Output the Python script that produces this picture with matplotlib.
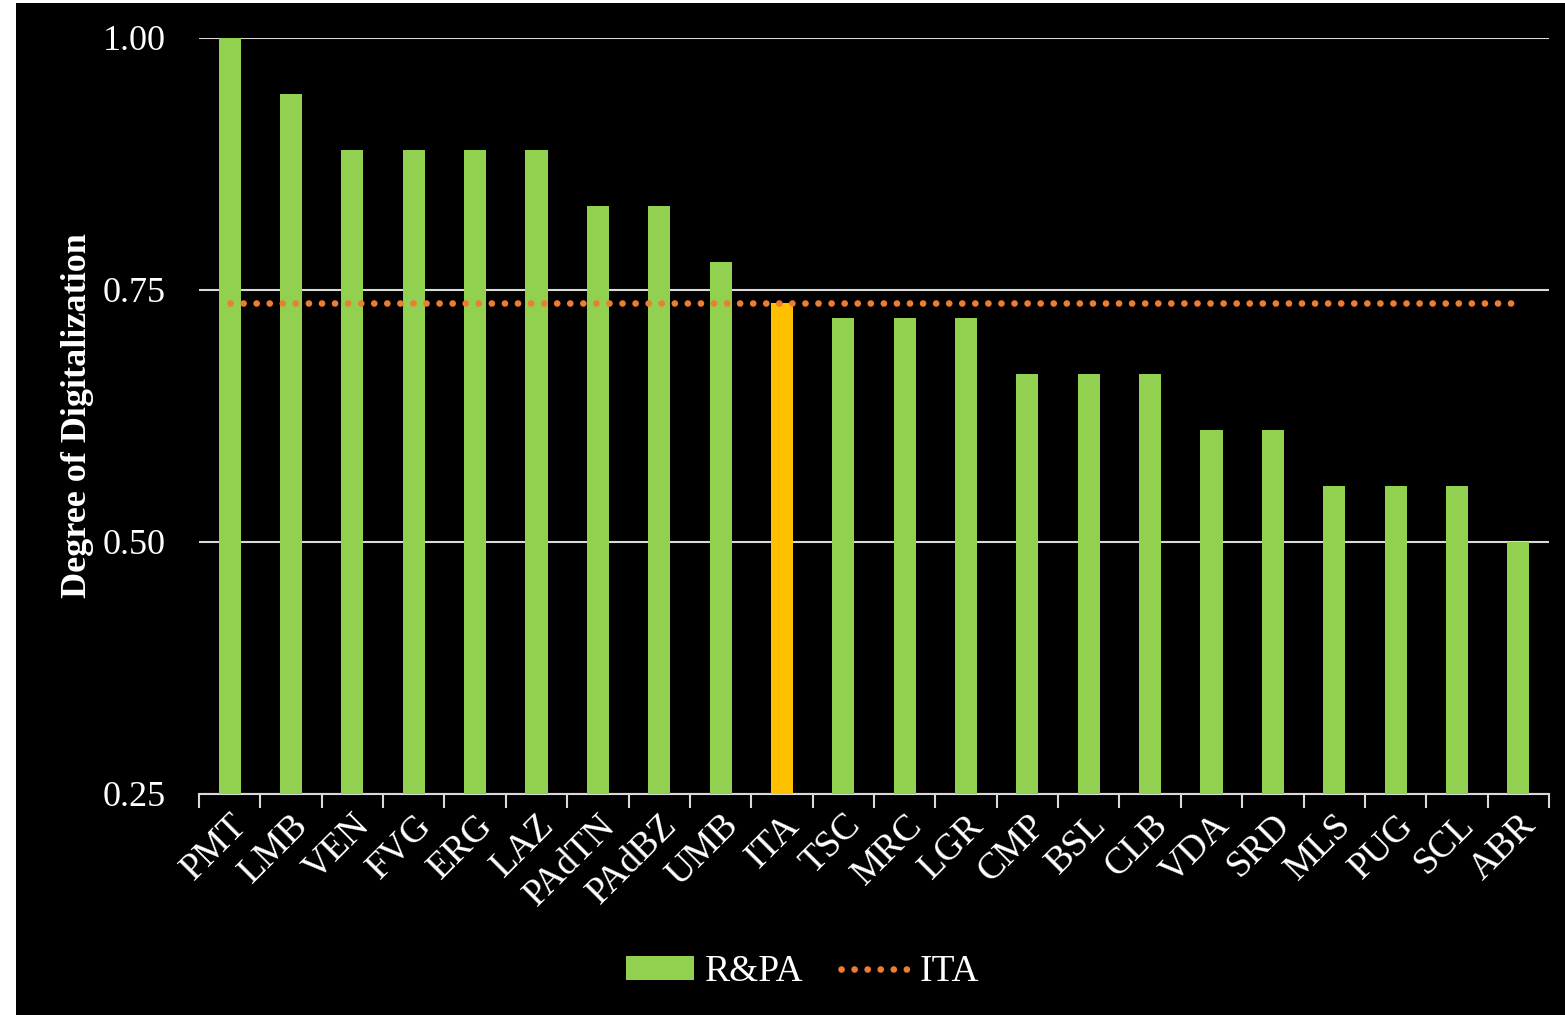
import matplotlib.pyplot as plt
import numpy as np
from matplotlib.patches import Rectangle

plt.rcParams['font.family'] = ['Liberation Serif', 'DejaVu Serif']

regions = ["PMT", "LMB", "VEN", "FVG", "ERG", "LAZ", "PAdTN", "PAdBZ", "UMB", "ITA",
           "TSC", "MRC", "LGR", "CMP", "BSL", "CLB", "VDA", "SRD", "MLS", "PUG", "SCL", "ABR"]
scores = [1.000, 0.944, 0.889, 0.889, 0.889, 0.889, 0.833, 0.833, 0.778, 0.737,
          0.722, 0.722, 0.722, 0.667, 0.667, 0.667, 0.611, 0.611, 0.556, 0.556, 0.556, 0.500]
ita_avg = 0.737
yticks = [0.25, 0.50, 0.75, 1.00]

green = "#92D050"
orange = "#FFC000"
dots = "#ED7D31"
grid = "#D9D9D9"

fig = plt.figure(figsize=(15.65, 10.15), dpi=100, facecolor="white")
# black panel (white strip on the left like the original)
fig.patches.append(Rectangle((16 / 1565, 0), 1 - 16 / 1565, 1 - 3 / 1015,
                             transform=fig.transFigure, facecolor="black", zorder=-10))

ax = fig.add_axes([199 / 1565, 1 - 794 / 1015, 1350 / 1565, 756 / 1015])
ax.set_facecolor("black")

x = np.arange(len(regions))
cols = [orange if r == "ITA" else green for r in regions]
ax.bar(x, [s - 0.25 for s in scores], bottom=0.25, width=0.36, color=cols, zorder=3, label="R&PA")
ax.plot(x, [ita_avg] * len(regions), linestyle=(0, (0.01, 1.95)), color=dots, lw=4.8,
        dash_capstyle="round", zorder=4, label="ITA")

ax.set_xlim(-0.5, len(regions) - 0.5)
ax.set_ylim(0.25, 1.0)
ax.set_yticks(yticks)
ax.set_yticklabels([f"{v:.2f}" for v in yticks], fontsize=26, color="white")
ax.tick_params(axis="y", length=0, pad=24)
ax.grid(axis="y", color=grid, lw=1.5, zorder=1)
ax.set_axisbelow(True)

ax.set_xticks(x)
ax.set_xticklabels(regions, rotation=45, ha="right", rotation_mode="anchor",
                   fontsize=27, color="white")
ax.tick_params(axis="x", which="major", length=0, pad=10)
ax.set_xticks(np.arange(-0.5, len(regions)), minor=True)
ax.tick_params(axis="x", which="minor", length=10, width=1.5, color=grid)

for s in ["top", "right", "left"]:
    ax.spines[s].set_visible(False)
ax.spines["bottom"].set_color(grid)
ax.spines["bottom"].set_linewidth(1.5)

ax.set_ylabel("Degree of Digitalization", fontsize=26, fontweight="bold", color="white", labelpad=6)

h, l = ax.get_legend_handles_labels()
fig.legend(h[::-1], l[::-1], loc="center", bbox_to_anchor=(0.513, 1 - 972 / 1015), ncol=2,
           frameon=False, fontsize=27, labelcolor="white", handlelength=1.8, handleheight=0.6,
           columnspacing=1.0, handletextpad=0.3)

fig.savefig("out.png", dpi=100, facecolor=fig.get_facecolor())
